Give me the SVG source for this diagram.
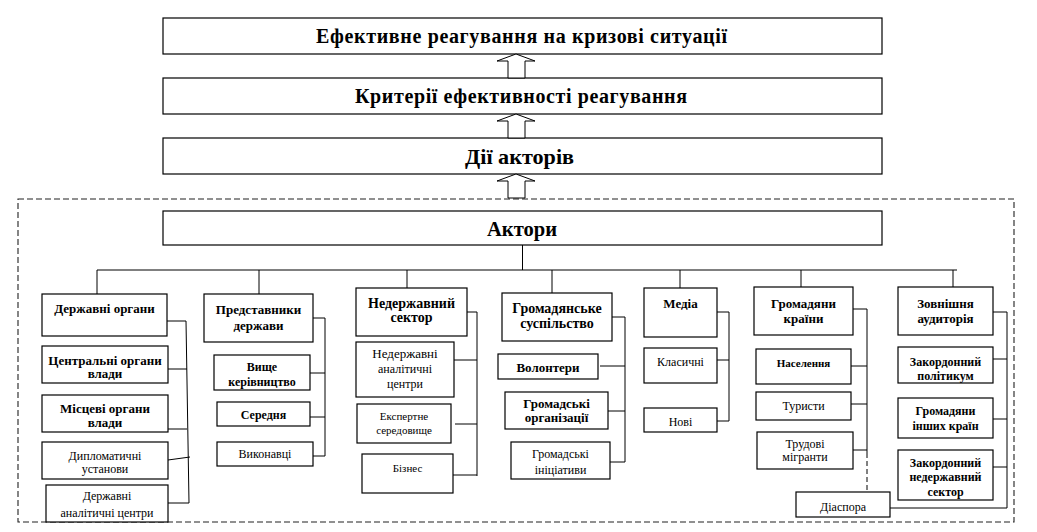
<svg xmlns="http://www.w3.org/2000/svg" width="1037" height="532" viewBox="0 0 1037 532">
  <style>
    .box { fill: #fff; stroke: #000; stroke-width: 1.2; }
    .ln { fill: none; stroke: #000; stroke-width: 1; }
    .dash { fill: none; stroke: #222; stroke-width: 1.1; stroke-dasharray: 6 3; }
    .arrow { fill: #fff; stroke: #000; stroke-width: 1; }
    text { font-family: 'Liberation Serif', 'Times New Roman', serif; fill: #000; text-anchor: middle; }
    .t1 { font-size: 20px; font-weight: bold; }
    .t2 { font-size: 22px; font-weight: bold; }
    .b { font-size: 13px; font-weight: bold; }
    .b14 { font-size: 14px; font-weight: bold; }
    .b12 { font-size: 12px; font-weight: bold; }
    .b11 { font-size: 11px; font-weight: bold; }
    .r { font-size: 12px; }
    .r13 { font-size: 13px; }
    .r11 { font-size: 11px; }
  </style>
  <defs>
    <clipPath id="clip-fsector"><rect x="897" y="449" width="97" height="51"/></clipPath>
  </defs>

  <rect x="0" y="0" width="1037" height="532" fill="#fff"/>

  <!-- outer dashed frame around the actors -->
  <rect class="dash" x="18" y="199" width="996" height="323"/>

  <!-- upper chain -->
  <g id="node-effective">
    <rect class="box" x="163" y="18" width="719" height="36"/>
    <text class="t1" x="521.5" y="43" textLength="411" lengthAdjust="spacing">Ефективне реагування на кризові ситуації</text>
  </g>
  <g id="node-criteria">
    <rect class="box" x="163" y="78" width="719" height="36"/>
    <text class="t1" x="521" y="103" textLength="332" lengthAdjust="spacing">Критерії ефективності реагування</text>
  </g>
  <g id="node-actions">
    <rect class="box" x="163" y="138" width="719" height="36"/>
    <text class="t2" x="519.5" y="164" textLength="109" lengthAdjust="spacingAndGlyphs">Дії акторів</text>
  </g>
  <g id="node-actors">
    <rect class="box" x="163" y="211" width="719" height="34"/>
    <text class="t2" x="522" y="236" textLength="70" lengthAdjust="spacingAndGlyphs">Актори</text>
  </g>

  <g id="connectors">
    <!-- hollow block arrows -->
    <polygon class="arrow" points="508,78 508,61 497,61 516,54 535,61 525,61 525,78"/>
    <polygon class="arrow" points="508,138 508,121 497,121 516,114 535,121 525,121 525,138"/>
    <polygon class="arrow" points="508,198 508,181 497,181 516,174 535,181 525,181 525,198"/>

    <!-- bus under the actors -->
    <path class="ln" d="M522.5,245 V270 M97,270 H957 M97,270 V294 M259,270 V294 M407,270 V288 M552,270 V293 M680,270 V288 M801,270 V287 M953,270 V287"/>

    <!-- state bodies -->
    <path class="ln" d="M167,321 H186 M186,321 L189,503 M168,369 H187 M168,429 H187 M168,460 L190,457 M168,503 H189"/>
    <!-- state representatives -->
    <path class="ln" d="M313,318 H325 V456 M310,373 H325 M310,417 H325 M313,456 H325"/>
    <!-- non-state sector -->
    <path class="ln" d="M467,312 H477 V476 M454,360 H477 M455,424 H477 M453,475 H477"/>
    <!-- civil society -->
    <path class="ln" d="M612,317 H625 V462 M600,366 H625 M608,411 H625 M610,462 H625"/>
    <!-- media -->
    <path class="ln" d="M717,312 H729 V421 H717 M717,360 H729"/>
    <!-- citizens -->
    <path class="ln" d="M853,309 H867 V453 M851,366 H867 M851,404 H867 M853,450 H867"/>
    <path class="ln" d="M867,453 V492" stroke-dasharray="5 3"/>
    <!-- foreign audience -->
    <path class="ln" d="M993,312 H1007 V508 H890 M993,359 H1007 M993,419 H1007 M993,467 H1007"/>
  </g>

  <!-- column: state bodies -->
  <g id="node-state-bodies">
    <rect class="box" x="42" y="294" width="125" height="42"/>
    <text class="b" x="104.5" y="312.5">Державні органи</text>
  </g>
  <g id="node-central">
    <rect class="box" x="42" y="346" width="126" height="37"/>
    <text class="b" x="105" y="364.5">Центральні органи</text>
    <text class="b" x="105" y="378">влади</text>
  </g>
  <g id="node-local">
    <rect class="box" x="42" y="395" width="126" height="37"/>
    <text class="b" x="105" y="412.5">Місцеві органи</text>
    <text class="b" x="105" y="426.5">влади</text>
  </g>
  <g id="node-diplomatic">
    <rect class="box" x="42" y="442" width="126" height="37"/>
    <text class="r" x="105" y="460">Дипломатичні</text>
    <text class="r" x="105" y="472.5">установи</text>
  </g>
  <g id="node-state-think-tanks">
    <rect class="box" x="46" y="485" width="122" height="37"/>
    <text class="r" x="107" y="500">Державні</text>
    <text class="r" x="107" y="517">аналітичні  центри</text>
  </g>

  <!-- column: state representatives -->
  <g id="node-representatives">
    <rect class="box" x="204" y="294" width="109" height="48"/>
    <text class="b" x="258.5" y="313.5">Представники</text>
    <text class="b" x="258.5" y="329.5">держави</text>
  </g>
  <g id="node-top-management">
    <rect class="box" x="214" y="355" width="96" height="35"/>
    <text class="b12" x="262" y="370.5">Вище</text>
    <text class="b12" x="262" y="385.5">керівництво</text>
  </g>
  <g id="node-middle">
    <rect class="box" x="217" y="402" width="93" height="24"/>
    <text class="b12" x="263.5" y="418.5">Середня</text>
  </g>
  <g id="node-executors">
    <rect class="box" x="217" y="442" width="96" height="24"/>
    <text class="r" x="265" y="458">Виконавці</text>
  </g>

  <!-- column: non-state sector -->
  <g id="node-non-state">
    <rect class="box" x="356" y="288" width="111" height="48"/>
    <text class="b14" x="411.5" y="307.5">Недержавний</text>
    <text class="b14" x="411.5" y="322">сектор</text>
  </g>
  <g id="node-ns-think-tanks">
    <rect class="box" x="356" y="342" width="98" height="55"/>
    <text class="r13" x="405" y="358">Недержавні</text>
    <text class="r" x="405" y="373">аналітичні</text>
    <text class="r" x="405" y="388">центри</text>
  </g>
  <g id="node-experts">
    <rect class="box" x="357" y="404" width="94" height="39"/>
    <text class="r11" x="404" y="420">Експертне</text>
    <text class="r11" x="404" y="434">середовище</text>
  </g>
  <g id="node-business">
    <rect class="box" x="362" y="454" width="91" height="39"/>
    <text class="r11" x="407.5" y="472">Бізнес</text>
  </g>

  <!-- column: civil society -->
  <g id="node-civil-society">
    <rect class="box" x="502" y="293" width="110" height="48"/>
    <text class="b14" x="557" y="312.5">Громадянське</text>
    <text class="b14" x="557" y="327.5">суспільство</text>
  </g>
  <g id="node-volunteers">
    <rect class="box" x="498" y="354" width="100" height="25"/>
    <text class="b" x="548" y="371.5">Волонтери</text>
  </g>
  <g id="node-ngo">
    <rect class="box" x="505" y="392" width="103" height="37"/>
    <text class="b" x="556.5" y="407.5">Громадські</text>
    <text class="b" x="556.5" y="421.5">організації</text>
  </g>
  <g id="node-initiatives">
    <rect class="box" x="511" y="442" width="99" height="37"/>
    <text class="r" x="560.5" y="458">Громадські</text>
    <text class="r" x="560.5" y="474">ініціативи</text>
  </g>

  <!-- column: media -->
  <g id="node-media">
    <rect class="box" x="644" y="288" width="73" height="49"/>
    <text class="b" x="680.5" y="307.5">Медіа</text>
  </g>
  <g id="node-classic">
    <rect class="box" x="644" y="348" width="73" height="35"/>
    <text class="r" x="680.5" y="366">Класичні</text>
  </g>
  <g id="node-new">
    <rect class="box" x="644" y="408" width="73" height="24"/>
    <text class="r" x="680.5" y="426">Нові</text>
  </g>

  <!-- column: citizens -->
  <g id="node-citizens">
    <rect class="box" x="754" y="287" width="99" height="48"/>
    <text class="b" x="803.5" y="307.5">Громадяни</text>
    <text class="b" x="803.5" y="322.5">країни</text>
  </g>
  <g id="node-population">
    <rect class="box" x="756" y="349" width="95" height="35"/>
    <text class="b11" x="803.5" y="367">Населення</text>
  </g>
  <g id="node-tourists">
    <rect class="box" x="756" y="392" width="95" height="28"/>
    <text class="r" x="803.5" y="410">Туристи</text>
  </g>
  <g id="node-migrants">
    <rect class="box" x="757" y="432" width="96" height="37"/>
    <text class="r" x="805" y="448">Трудові</text>
    <text class="r" x="805" y="461">мігранти</text>
  </g>
  <g id="node-diaspora">
    <rect class="box" x="796" y="492" width="94" height="25"/>
    <text class="r" x="843" y="511">Діаспора</text>
  </g>

  <!-- column: foreign audience -->
  <g id="node-foreign">
    <rect class="box" x="898" y="287" width="95" height="48"/>
    <text class="b" x="945.5" y="307.5">Зовнішня</text>
    <text class="b" x="945.5" y="322.5">аудиторія</text>
  </g>
  <g id="node-foreign-politics">
    <rect class="box" x="898" y="347" width="95" height="36"/>
    <text class="b12" x="945.5" y="365.5">Закордонний</text>
    <text class="b12" x="945.5" y="379.5">політикум</text>
  </g>
  <g id="node-foreign-citizens">
    <rect class="box" x="898" y="398" width="95" height="40"/>
    <text class="b12" x="945.5" y="414.5">Громадяни</text>
    <text class="b12" x="945.5" y="429.5">інших країн</text>
  </g>
  <g id="node-foreign-sector">
    <rect class="box" x="898" y="450" width="95" height="50"/>
    <g clip-path="url(#clip-fsector)">
      <text class="b12" x="945.5" y="466.5">Закордонний</text>
      <text class="b12" x="945.5" y="480.5">недержавний</text>
      <text class="b12" x="945.5" y="496">сектор</text>
    </g>
  </g>
</svg>
